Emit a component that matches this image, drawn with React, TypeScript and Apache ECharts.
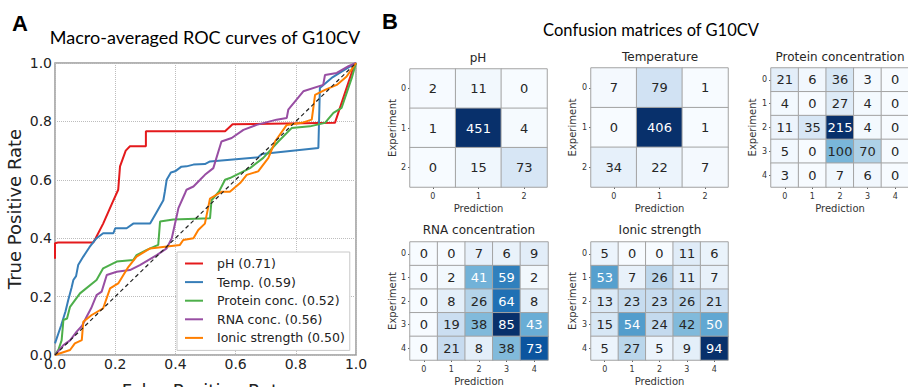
import React, { useEffect, useRef } from 'react';
import * as echarts from 'echarts';

// ---------- ROC data ----------
const rocNames = ['pH (0.71)', 'Temp. (0.59)', 'Protein conc. (0.52)', 'RNA conc. (0.56)', 'Ionic strength (0.50)'];
const rocColors = ['#e41a1c', '#377eb8', '#4daf4a', '#984ea3', '#ff7f00'];

const rocPH = [[0, 0.33], [0, 0.383], [0.01, 0.385], [0.127, 0.385], [0.135, 0.4], [0.16, 0.45], [0.19, 0.52], [0.21, 0.566], [0.216, 0.646], [0.235, 0.7], [0.249, 0.715], [0.302, 0.715], [0.302, 0.766], [0.565, 0.766], [0.59, 0.79], [0.93, 0.795], [0.99, 0.98], [1, 1]];
const rocTemp = [[0, 0.04], [0.02, 0.1], [0.035, 0.15], [0.044, 0.188], [0.055, 0.23], [0.061, 0.257], [0.07, 0.27], [0.077, 0.308], [0.094, 0.337], [0.115, 0.37], [0.138, 0.4], [0.16, 0.417], [0.194, 0.417], [0.2, 0.434], [0.238, 0.434], [0.26, 0.45], [0.316, 0.45], [0.338, 0.49], [0.36, 0.53], [0.365, 0.56], [0.371, 0.6], [0.385, 0.625], [0.399, 0.629], [0.42, 0.645], [0.437, 0.646], [0.46, 0.652], [0.498, 0.654], [0.515, 0.663], [0.675, 0.677], [0.687, 0.688], [0.875, 0.709], [0.88, 0.914], [0.919, 0.949], [0.963, 0.977], [1, 1]];
const rocProtein = [[0, 0], [0.012, 0.02], [0.022, 0.05], [0.028, 0.12], [0.04, 0.125], [0.05, 0.165], [0.083, 0.211], [0.138, 0.257], [0.16, 0.297], [0.205, 0.32], [0.26, 0.325], [0.271, 0.342], [0.305, 0.36], [0.343, 0.377], [0.349, 0.457], [0.393, 0.464], [0.515, 0.468], [0.52, 0.53], [0.545, 0.56], [0.565, 0.6], [0.581, 0.606], [0.648, 0.64], [0.692, 0.675], [0.742, 0.731], [0.786, 0.777], [0.847, 0.783], [0.897, 0.795], [0.925, 0.829], [0.952, 0.846], [0.986, 0.949], [1, 1]];
const rocRNA = [[0, 0], [0.028, 0.034], [0.05, 0.05], [0.072, 0.08], [0.09, 0.1], [0.105, 0.131], [0.12, 0.16], [0.138, 0.205], [0.155, 0.217], [0.172, 0.274], [0.205, 0.285], [0.249, 0.291], [0.282, 0.308], [0.338, 0.342], [0.371, 0.365], [0.388, 0.4], [0.404, 0.474], [0.41, 0.503], [0.432, 0.554], [0.437, 0.566], [0.46, 0.577], [0.482, 0.6], [0.498, 0.617], [0.526, 0.64], [0.553, 0.731], [0.587, 0.743], [0.626, 0.771], [0.67, 0.788], [0.736, 0.806], [0.77, 0.812], [0.775, 0.84], [0.825, 0.903], [0.891, 0.925], [0.897, 0.959], [0.936, 0.966], [0.975, 0.989], [1, 1]];
const rocIonic = [[0, 0], [0.05, 0.017], [0.066, 0.04], [0.089, 0.051], [0.094, 0.114], [0.122, 0.137], [0.16, 0.16], [0.183, 0.228], [0.21, 0.245], [0.244, 0.302], [0.271, 0.337], [0.316, 0.365], [0.415, 0.377], [0.426, 0.394], [0.46, 0.4], [0.476, 0.428], [0.498, 0.45], [0.515, 0.536], [0.553, 0.559], [0.581, 0.559], [0.615, 0.589], [0.637, 0.617], [0.675, 0.629], [0.709, 0.675], [0.731, 0.731], [0.77, 0.788], [0.82, 0.795], [0.853, 0.806], [0.864, 0.891], [0.897, 0.908], [0.936, 0.925], [0.969, 0.954], [1, 1]];
const chanceLine = [[0, 0], [1, 1]];

// ---------- Confusion matrices ----------
const matrixTitles = ['pH', 'Temperature', 'Protein concentration', 'RNA concentration', 'Ionic strength'];
const phMatrix = [[2, 11, 0], [1, 451, 4], [0, 15, 73]];
const tempMatrix = [[7, 79, 1], [0, 406, 1], [34, 22, 7]];
const proteinMatrix = [[21, 6, 36, 3, 0], [4, 0, 27, 4, 0], [11, 35, 215, 4, 0], [5, 0, 100, 70, 0], [3, 0, 7, 6, 0]];
const rnaMatrix = [[0, 0, 7, 6, 9], [0, 2, 41, 59, 2], [0, 8, 26, 64, 8], [0, 19, 38, 85, 43], [0, 21, 8, 38, 73]];
const ionicMatrix = [[5, 0, 0, 11, 6], [53, 7, 26, 11, 7], [13, 23, 23, 26, 21], [15, 54, 24, 42, 50], [5, 27, 5, 9, 94]];
const classLabels3 = ['0', '1', '2'];
const classLabels5 = ['0', '1', '2', '3', '4'];

const BLUES = ['#f7fbff', '#deebf7', '#c6dbef', '#9ecae1', '#6baed6', '#4292c6', '#2171b5', '#08519c', '#08306b'];

function hexToRgb(h: string) {
  return [parseInt(h.slice(1, 3), 16), parseInt(h.slice(3, 5), 16), parseInt(h.slice(5, 7), 16)];
}
function bluesAt(t: number) {
  const n = BLUES.length - 1;
  const p = Math.max(0, Math.min(1, t)) * n;
  const i = Math.min(n - 1, Math.floor(p));
  const f = p - i;
  const a = hexToRgb(BLUES[i]);
  const b = hexToRgb(BLUES[i + 1]);
  return a.map((v, k) => v + (b[k] - v) * f);
}
function textColorFor(t: number) {
  const rgb = bluesAt(t).map((v) => {
    const c = v / 255;
    return c <= 0.03928 ? c / 12.92 : Math.pow((c + 0.055) / 1.055, 2.4);
  });
  const lum = 0.2126 * rgb[0] + 0.7152 * rgb[1] + 0.0722 * rgb[2];
  return lum > 0.408 ? '#262626' : '#ffffff';
}

const FONT = 'DejaVu Sans';
const TITLE_FONT = 'Lato';

export default function App() {
  const ref = useRef<HTMLDivElement>(null);
  useEffect(() => {
    document.body.style.margin = '0';
    const chart = echarts.init(ref.current!, null, { renderer: 'svg' });

    const matrices = [phMatrix, tempMatrix, proteinMatrix, rnaMatrix, ionicMatrix];
    const heatGrids = [
      { left: 410, top: 69, width: 137, height: 118 },
      { left: 591, top: 68, width: 137, height: 119 },
      { left: 771, top: 68, width: 138, height: 119 },
      { left: 410, top: 242, width: 138, height: 118 },
      { left: 591, top: 242, width: 137, height: 118 },
    ].map((g) => ({ ...g, outerBoundsMode: 'none' }));
    const yNameGaps = [13, 14, 14, 13, 14];

    const grid: any[] = [
      { left: 55, top: 63, width: 301, height: 292, show: true, borderColor: '#9a9a9a', borderWidth: 1.5, backgroundColor: 'transparent', outerBoundsMode: 'none' },
      ...heatGrids,
    ];

    const xAxis: any[] = [
      {
        type: 'value', gridIndex: 0, min: 0, max: 1, interval: 0.2,
        axisLine: { show: false }, axisTick: { show: false },
        axisLabel: { formatter: (v: number) => v.toFixed(1), fontSize: 14, color: '#222', margin: 2, fontFamily: FONT },
        splitLine: { show: true, lineStyle: { type: 'dotted', color: '#bdbdbd', width: 1 } },
        name: 'False Positive Rate', nameLocation: 'middle', nameGap: 26,
        nameTextStyle: { fontSize: 18, color: '#222', fontFamily: FONT },
      },
    ];
    const yAxis: any[] = [
      {
        type: 'value', gridIndex: 0, min: 0, max: 1, interval: 0.2,
        axisLine: { show: false }, axisTick: { show: false },
        axisLabel: { formatter: (v: number) => v.toFixed(1), fontSize: 14, color: '#222', margin: 3, fontFamily: FONT },
        splitLine: { show: true, lineStyle: { type: 'dotted', color: '#bdbdbd', width: 1 } },
        name: 'True Positive Rate', nameLocation: 'middle', nameGap: 32,
        nameTextStyle: { fontSize: 18, color: '#222', fontFamily: FONT },
      },
    ];

    matrices.forEach((m, i) => {
      const labels = m.length === 3 ? classLabels3 : classLabels5;
      xAxis.push({
        type: 'category', gridIndex: i + 1, data: labels,
        axisLine: { show: false },
        axisTick: { show: true, alignWithLabel: true, length: 2, lineStyle: { color: '#666' } },
        axisLabel: { fontSize: 8, color: '#333', margin: 5, fontFamily: FONT },
        splitLine: { show: false }, splitArea: { show: false },
        name: 'Prediction', nameLocation: 'middle', nameGap: 16,
        nameTextStyle: { fontSize: 10, color: '#333', fontFamily: FONT },
      });
      yAxis.push({
        type: 'category', gridIndex: i + 1, data: labels, inverse: true,
        axisLine: { show: false },
        axisTick: { show: true, alignWithLabel: true, length: 2, lineStyle: { color: '#666' } },
        axisLabel: { fontSize: 8, color: '#333', margin: 4, fontFamily: FONT },
        splitLine: { show: false }, splitArea: { show: false },
        name: 'Experiment', nameLocation: 'middle', nameGap: yNameGaps[i], nameRotate: 90,
        nameTextStyle: { fontSize: 10, color: '#333', fontFamily: FONT },
      });
    });

    const rocData = [rocPH, rocTemp, rocProtein, rocRNA, rocIonic];
    const series: any[] = rocData.map((d, i) => ({
      type: 'line', name: rocNames[i], xAxisIndex: 0, yAxisIndex: 0,
      data: d, symbol: 'none', showSymbol: false,
      lineStyle: { width: 2, color: rocColors[i] }, itemStyle: { color: rocColors[i] },
      z: 3,
    }));
    series.push({
      type: 'line', name: 'chance', xAxisIndex: 0, yAxisIndex: 0, data: chanceLine,
      symbol: 'none', silent: true,
      lineStyle: { width: 1.2, color: '#222', type: [4, 3] }, z: 4,
    });

    const visualMap: any[] = [];
    matrices.forEach((m, i) => {
      let max = 0;
      m.forEach((row) => row.forEach((v) => { if (v > max) max = v; }));
      const data: any[] = [];
      m.forEach((row, r) => row.forEach((v, c) => {
        data.push({ value: [c, r, v], label: { color: textColorFor(v / max) } });
      }));
      const seriesIndex = series.length;
      series.push({
        type: 'heatmap', xAxisIndex: i + 1, yAxisIndex: i + 1, data,
        label: { show: true, fontSize: 13, fontFamily: FONT },
        itemStyle: { borderColor: '#a3a3a3', borderWidth: 1 },
        emphasis: { disabled: true },
      });
      visualMap.push({
        show: false, seriesIndex, dimension: 2, min: 0, max,
        inRange: { color: BLUES },
      });
    });

    const titlePos = [
      [478, 58], [660, 57], [840, 57], [479, 230], [660, 230],
    ];
    const graphic: any[] = [
      { type: 'text', left: 12, top: 12, style: { text: 'A', font: 'bold 22px "Liberation Sans", Arial', fill: '#000' } },
      { type: 'text', left: 382, top: 10, style: { text: 'B', font: 'bold 22px "Liberation Sans", Arial', fill: '#000' } },
      { type: 'text', x: 205, y: 37, style: { text: 'Macro-averaged ROC curves of G10CV', font: `18px "${TITLE_FONT}"`, fill: '#000', align: 'center', verticalAlign: 'middle' } },
      { type: 'text', x: 651, y: 30, style: { text: 'Confusion matrices of G10CV', font: `16.5px "${TITLE_FONT}"`, fill: '#000', align: 'center', verticalAlign: 'middle' } },
      ...matrixTitles.map((t, i) => ({
        type: 'text', x: titlePos[i][0], y: titlePos[i][1],
        style: { text: t, font: `12px "${FONT}"`, fill: '#262626', align: 'center', verticalAlign: 'middle' },
      })),
    ];

    chart.setOption({
      animation: false,
      backgroundColor: '#ffffff',
      grid, xAxis, yAxis, series, visualMap, graphic,
      legend: {
        data: rocNames,
        orient: 'vertical',
        left: 177, top: 252,
        backgroundColor: '#fff',
        borderColor: '#c8c8c8', borderWidth: 1,
        padding: [4, 5, 5, 8],
        icon: 'rect',
        itemWidth: 18, itemHeight: 2, itemGap: 3.6,
        textStyle: { fontSize: 12.5, lineHeight: 15, color: '#222', fontFamily: FONT, padding: [0, 0, 0, 9] },
      },
    });
    return () => chart.dispose();
  }, []);
  return <div ref={ref} style={{ width: 908, height: 387 }} />;
}
